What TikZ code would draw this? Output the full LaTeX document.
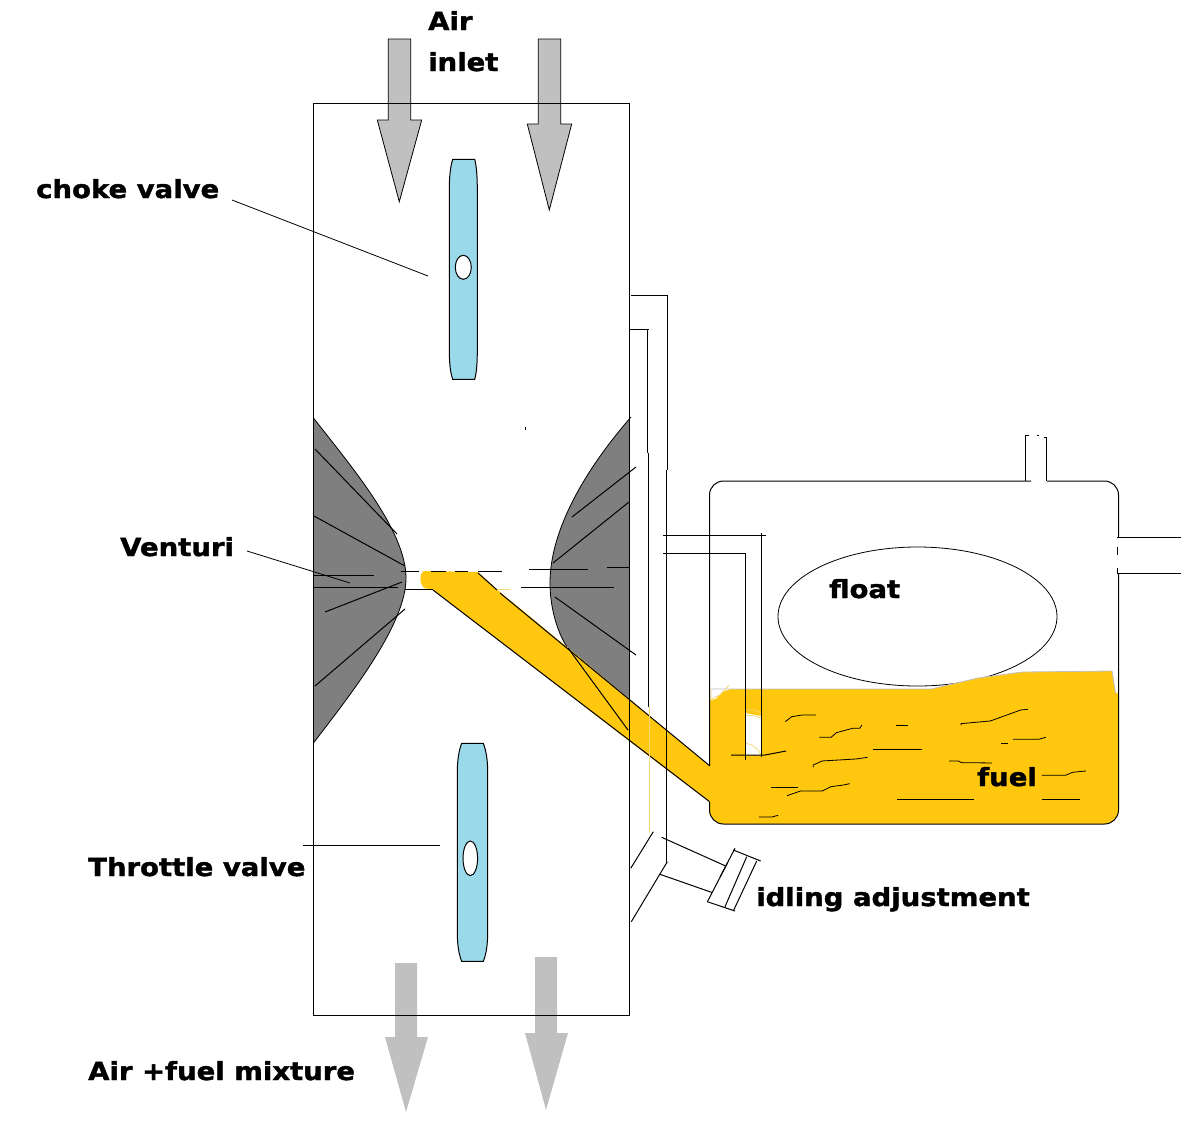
\documentclass[tikz,border=0pt]{standalone}
\usepackage{fontspec}
\setmainfont{DejaVu Sans}
\newfontfamily\labf[FakeStretch=1.1,FakeBold=1.5]{DejaVu Sans Bold}
\definecolor{fuelc}{HTML}{FFC70E}
\definecolor{paleY}{HTML}{F2D878}
\definecolor{arrowc}{HTML}{C0C0C0}
\definecolor{valvec}{HTML}{99D9EA}
\definecolor{ventc}{HTML}{7F7F7F}
\tikzset{
  lab/.style={anchor=base west,inner sep=0pt,font=\labf\fontsize{25}{25}\selectfont},
  ln/.style={draw=black,line width=1pt},
  thin1/.style={draw=black,line width=0.8pt},
  arrowa/.style={fill=arrowc,draw=black,line width=0.8pt},
  arrowb/.style={fill=arrowc},
  valve/.style={fill=valvec,draw=black,line width=1pt},
  hole/.style={fill=white,draw=black,line width=1pt},
  pale/.style={draw=paleY,line width=0.8pt}
}
\begin{document}
\begin{tikzpicture}[x=1pt,y=-1pt]
\useasboundingbox (0,0) rectangle (1181,1141);
\fill[white] (0,0) rectangle (1181,1141);
% venturi
\fill[ventc] (313.5,418) .. controls (350,465) and (406,530) .. (406,578) .. controls (406,625) and (350,695) .. (313.5,743) -- cycle;
\fill[ventc] (629.5,419) .. controls (585,470) and (550,530) .. (550,583) .. controls (550,605) and (556,630) .. (567,647) -- (629.5,700) -- cycle;
\draw[thin1] (313.5,418) .. controls (350,465) and (406,530) .. (406,578) .. controls (406,625) and (350,695) .. (313.5,743);
\draw[thin1] (631,417) .. controls (585,470) and (550,530) .. (550,583) .. controls (550,605) and (556,630) .. (567,647);
% band
\fill[fuelc] (424,571) -- (478,572) -- (500,592) -- (567,647) -- (711,767) -- (711,803) -- (650,757) -- (433,590) -- (424,588) .. controls (420,584) and (418,575) .. (424,571) -- cycle;
\draw[ln] (478,573) -- (497,590);
\draw[ln] (500,593) -- (710,766);
\draw[ln] (433,590) -- (710,802);
\draw[pale] (497,589) -- (510,589);
% venturi hatch
\draw[ln] (315,449) -- (397,534);
\draw[ln] (314,516) -- (405,566);
\draw[ln] (314,575) -- (374,575);
\draw[ln] (314,587) -- (398,587);
\draw[ln] (325,612) -- (402,582);
\draw[ln] (315,686) -- (405,609);
\draw[ln] (401,571) -- (419,571);
\draw[ln] (431,571) -- (446,571);
\draw[ln] (455,571) -- (468,571);
\draw[ln] (478,571) -- (502,571);
\draw[ln] (405,589) -- (433,589);
\draw[ln] (572,517) -- (636,467);
\draw[ln] (553,563) -- (629,502);
\draw[ln] (529,569) -- (588,569);
\draw[ln] (607,567) -- (629,567);
\draw[ln] (521,587) -- (614,587);
\draw[ln] (555,597) -- (636,655);
\draw[ln] (568,648) -- (628,730);
\draw[ln] (525,427) -- (525,430);
% arrows top
\path[arrowa] (388.3,39) -- (410.7,39) -- (410.7,120) -- (421.7,120) -- (399.3,201.7) -- (377.3,120) -- (388.3,120) -- cycle;
\path[arrowa] (538.3,39) -- (560.7,39) -- (560.7,124) -- (571.7,124) -- (549.3,210) -- (527.3,124) -- (538.3,124) -- cycle;
% arrows bottom
\path[arrowb] (395,963) -- (417,963) -- (417,1037) -- (428,1037) -- (406,1112) -- (385,1037) -- (395,1037) -- cycle;
\path[arrowb] (535,957) -- (557,957) -- (557,1033) -- (568,1033) -- (546,1110) -- (525,1033) -- (535,1033) -- cycle;
% outer body
\draw[ln] (313.5,103) rectangle (629.5,1015);
% valves
\path[valve] (452.7,159.3) -- (474.7,159.3) .. controls (476.5,166) and (477.3,176) .. (477.3,190) -- (477.3,350) .. controls (477.3,364) and (476.5,373) .. (474.7,379.3) -- (452.7,379.3) .. controls (450.5,373) and (449.3,364) .. (449.3,350) -- (449.3,190) .. controls (449.3,176) and (450.5,166) .. (452.7,159.3) -- cycle;
\draw[hole] (463.3,267.3) ellipse [x radius=8,y radius=12];
\path[valve] (461.7,743.3) -- (483.3,743.3) .. controls (486,750) and (487.7,760) .. (487.7,772) -- (487.7,932) .. controls (487.7,945) and (486,955) .. (483.3,961.3) -- (461.7,961.3) .. controls (459,955) and (457.3,945) .. (457.3,932) -- (457.3,772) .. controls (457.3,760) and (459,750) .. (461.7,743.3) -- cycle;
\draw[hole] (470.3,858.3) ellipse [x radius=7.3,y radius=17.3];
% conduit
\draw[ln] (631,295) -- (667,295) -- (667,470);
\draw[ln] (666,470) -- (666,863);
\draw[ln] (630,329) -- (649,329);
\draw[ln] (647.5,329) -- (647.5,453);
\draw[ln] (648.5,453) -- (648.5,707);
\draw[draw=paleY,line width=1pt] (649,707) -- (649,833);
\draw[ln] (630.7,868.3) -- (653.3,831.7);
\draw[ln] (631.3,921.7) -- (667.3,861.7);
\draw[ln] (661.7,837.3) -- (725,865.7);
\draw[ln] (660,874.3) -- (712,892.5);
% idling screw
\draw[ln] (735,848.3) -- (720,877);
\draw[ln] (727.3,863.3) -- (707.4,901.7);
\draw[ln] (746.7,856.7) -- (725,906.7);
\draw[ln] (756.7,861) -- (733.3,911);
\draw[ln] (733.3,850) -- (760.7,861);
\draw[ln] (707.3,901.7) -- (735,911);
% float and fuel
\draw[thin1] (917.5,616.5) ellipse [x radius=139.5,y radius=69.5];
\fill[fuelc] (709.5,700) -- (716,699) -- (722,692) -- (731,689) -- (931,689) -- (978,678) -- (1022.5,672) -- (1112,671) -- (1115.5,693) -- (1118.5,693) -- (1118.5,810) .. controls (1118.5,818) and (1112,824) .. (1104.5,824) -- (723.5,824) .. controls (716,824) and (709.5,818) .. (709.5,810) -- cycle;
\draw[draw=arrowc,line width=0.8pt] (711,689) -- (931,689) -- (978,678) -- (1022.5,672) -- (1112,671) -- (1115.5,693);
% tube, with the white inside
\fill[white] (745,713) -- (761,716) -- (761,755) -- (745,755) -- cycle;
\draw[pale] (745,710) -- (755,710) -- (761,713);
\draw[pale] (745,715) -- (755,716) -- (761,718);
\draw[pale] (745,743) -- (752,745) -- (758,750) -- (761,755);
\draw[pale] (711,689) -- (711,699) -- (720,695) -- (729,685);
\begin{scope}[shift={(620,420)},x=0.3578pt,y=-0.3333pt]
\foreach \p in {
 {(462,905) -- (480,890) -- (510,885) -- (548,885)},
 {(557,952) -- (590,952) -- (605,938) -- (650,925) -- (670,925) -- (676,915)},
 {(770,915) -- (805,915)},
 {(953,916) -- (953,911) -- (1035,903) -- (1120,870) -- (1140,868)},
 {(1065,970) -- (1085,970)},
 {(1098,958) -- (1170,958) -- (1190,952)},
 {(707,987) -- (844,987)},
 {(540,1042) -- (540,1035) -- (565,1023) -- (660,1017) -- (692,1012)},
 {(920,1023) -- (945,1023) -- (955,1028) -- (1040,1029)},
 {(1178,1066) -- (1245,1066) -- (1265,1057) -- (1302,1053)},
 {(422,1101) -- (498,1101)},
 {(467,1127) -- (505,1113) -- (565,1113) -- (590,1100) -- (625,1095) -- (642,1091)},
 {(775,1137) -- (988,1137)},
 {(1178,1137) -- (1285,1137)},
 {(388,1191) -- (425,1191) -- (442,1186)}}
 {\draw[thin1] \p;}
\end{scope}
\draw[ln] (663,535) -- (765.6,535);
\draw[ln] (761.3,533) -- (761.3,757);
\draw[ln] (663,553) -- (745,553) -- (745,760);
\draw[ln] (731,755) -- (765,755) -- (786,751);
% tank
\draw[ln] (709.5,766) -- (709.5,495) .. controls (709.5,487) and (716,481) .. (723.5,481) -- (1031,481);
\draw[ln] (1047,481) -- (1104.5,481) .. controls (1112,481) and (1118.5,487) .. (1118.5,495) -- (1118.5,537);
\draw[ln] (1118.5,573) -- (1118.5,810) .. controls (1118.5,818) and (1112,824) .. (1104.5,824) -- (723.5,824) .. controls (716,824) and (709.5,818) .. (709.5,810) -- (709.5,802);
\draw[ln] (1025.4,481) -- (1025.4,435) -- (1029,435);
\draw[ln] (1037,435) -- (1039,435);
\draw[ln] (1044,437) -- (1046.8,437) -- (1046.8,481);
\draw[ln] (1117,537) -- (1181,537);
\draw[ln] (1117,573) -- (1181,573);
\draw[ln] (1117.5,547) -- (1117.5,555);
\draw[ln] (1117.5,568) -- (1117.5,573);
% labels
\node[lab] (airlab) at (428,30) {Air};
\node[lab] (inletlab) at (428,71) {inlet};
\node[lab] (chokelab) at (36,198) {choke valve};
\node[lab] (ventlab) at (120,556) {Venturi};
\node[lab] (thrlab) at (88,876) {Throttle valve};
\node[lab] (idlelab) at (756,906) {idling adjustment};
\node[lab] (mixlab) at (88,1080) {Air +fuel mixture};
\node[lab] (floatlab) at (829,598) {float};
\node[lab] (fuellab) at (977,786) {fuel};
% leaders
\coordinate (chokeA) at (232,200);
\coordinate (chokeB) at (428,276);
\coordinate (ventA) at (247,551);
\coordinate (ventB) at (350,583);
\coordinate (thrA) at (303,845);
\coordinate (thrB) at (440,845);
\draw[thin1] (chokeA) -- (chokeB);
\draw[thin1] (ventA) -- (ventB);
\draw[thin1] (thrA) -- (thrB);
\end{tikzpicture}
\end{document}
